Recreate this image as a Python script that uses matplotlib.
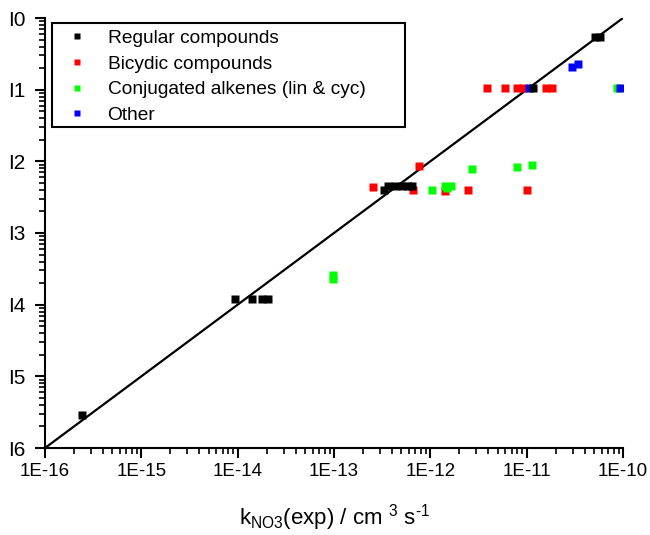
import matplotlib
matplotlib.use("Agg")
import matplotlib.pyplot as plt
from matplotlib.ticker import LogLocator, FixedLocator, NullFormatter
from matplotlib.patches import Rectangle

plt.rcParams['font.family'] = ['Liberation Sans', 'DejaVu Sans']
plt.rcParams['mathtext.fontset'] = 'custom'
plt.rcParams['mathtext.rm'] = 'Liberation Sans'
plt.rcParams['mathtext.it'] = 'Liberation Sans'

# log10 values (exp, calc)
regular_x = [-15.62, -14.03, -13.85, -13.75, -13.68, -12.48, -12.44, -12.37, -12.29, -12.23, -12.19, -10.93, -10.29, -10.24]
regular_y = [-15.54, -13.92, -13.92, -13.92, -13.92, -12.40, -12.34, -12.34, -12.34, -12.34, -12.34, -10.97, -10.27, -10.27]
bicyclic_x = [-11.41, -11.22, -11.10, -11.04, -10.80, -10.74, -12.60, -12.12, -12.18, -11.85, -11.61, -11.00]
bicyclic_y = [-10.98, -10.98, -10.98, -10.98, -10.98, -10.98, -12.36, -12.07, -12.40, -12.41, -12.40, -12.40]
conj_x = [-11.57, -11.10, -10.94, -11.98, -11.85, -11.79, -11.83, -13.01, -13.01, -10.06]
conj_y = [-12.11, -12.08, -12.05, -12.40, -12.34, -12.34, -12.37, -13.59, -13.64, -10.98]
other_x = [-10.98, -10.53, -10.47, -10.03]
other_y = [-10.98, -10.68, -10.64, -10.98]

labels = ["Regular compounds", "Bicydic compounds", "Conjugated alkenes (lin & cyc)", "Other"]
colors = ["#000000", "#ff0000", "#00ff00", "#0000ff"]
xticklabels = ["1E-16", "1E-15", "1E-14", "1E-13", "1E-12", "1E-11", "1E-10"]
yticklabels = ["I6", "I5", "I4", "I3", "I2", "I1", "I0"]

W, H = 650, 535
fig = plt.figure(figsize=(6.5, 5.35), dpi=100)
ax = fig.add_axes([45/W, 87/H, 578/W, 430/H])

ax.plot([1e-16, 1e-10], [1e-16, 1e-10], color='black', lw=1.6, zorder=2)

series = [(regular_x, regular_y), (bicyclic_x, bicyclic_y), (conj_x, conj_y), (other_x, other_y)]
zorders = [6, 3, 4, 5]
handles = []
for (xs, ys), lab, c, z in zip(series, labels, colors, zorders):
    h, = ax.plot([10**v for v in xs], [10**v for v in ys], linestyle='none', marker='s',
                 ms=5.3, mfc=c, mec='none', color=c, label=lab, zorder=z)
    handles.append(h)

ax.set_xscale('log')
ax.set_yscale('log')
ax.set_xlim(1e-16, 1e-10)
ax.set_ylim(1e-16, 1e-10)

major = [10.0**e for e in range(-16, -9)]
ax.xaxis.set_major_locator(FixedLocator(major))
ax.yaxis.set_major_locator(FixedLocator(major))
ax.xaxis.set_minor_locator(LogLocator(base=10, subs=range(2, 10), numticks=20))
ax.yaxis.set_minor_locator(LogLocator(base=10, subs=range(2, 10), numticks=20))
ax.xaxis.set_minor_formatter(NullFormatter())
ax.yaxis.set_minor_formatter(NullFormatter())
ax.set_xticklabels(xticklabels, fontsize=13.5)
ax.set_yticklabels(yticklabels, fontsize=15)

for s in ['top', 'right']:
    ax.spines[s].set_visible(False)
for s in ['left', 'bottom']:
    ax.spines[s].set_linewidth(1.5)
ax.tick_params(which='major', direction='out', length=7, width=1.5, pad=4)
ax.tick_params(which='minor', direction='out', length=4, width=1.2)
ax.tick_params(axis='y', which='major', pad=7)

ax.set_xlabel('k$_{\\mathrm{NO3}}$(exp) / cm $^{3}$ s$^{\u2010 1}$', fontsize=16, labelpad=16)

# legend frame (drawn wider than its contents, as in the reference)
frame = Rectangle((52/W, 1 - 127/H), 353/W, 104/H, transform=fig.transFigure,
                  facecolor='white', edgecolor='black', lw=1.5, zorder=9)
fig.patches.append(frame)

leg = fig.legend(handles=handles, loc='upper left', bbox_to_anchor=(52/W, 1 - 24/H),
                 frameon=False, fontsize=13.8, handlelength=2.0,
                 handletextpad=0.6, borderpad=0.3, labelspacing=0.43, borderaxespad=0,
                 markerscale=0.95)
leg.set_zorder(10)

fig.savefig('out.png', dpi=100)
